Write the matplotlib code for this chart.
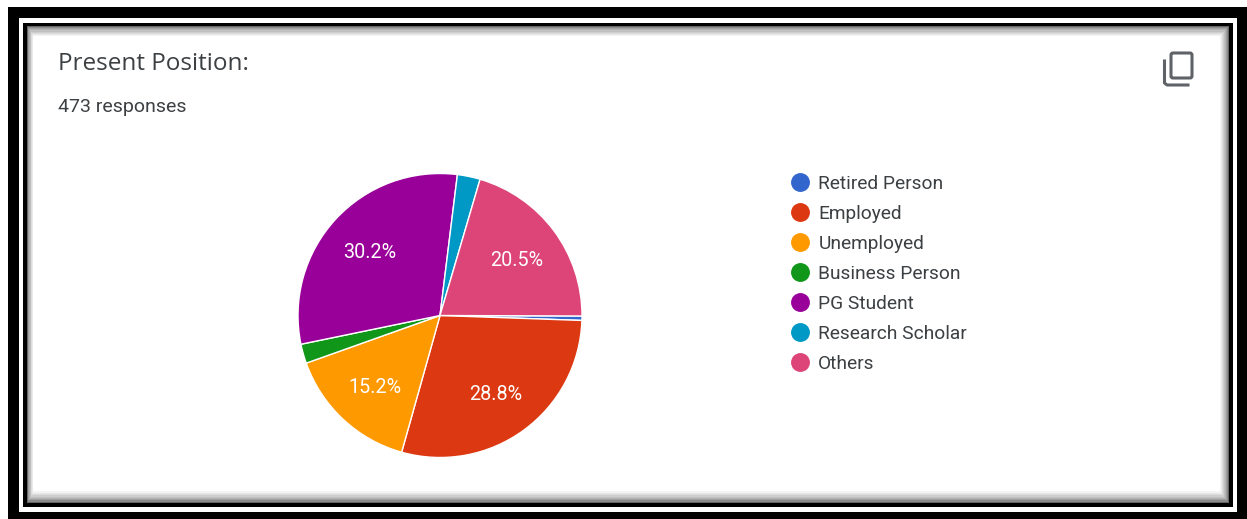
#!/usr/bin/env python3

import matplotlib
matplotlib.use('Agg')
import matplotlib.pyplot as plt
from matplotlib.lines import Line2D
from matplotlib.patches import Rectangle, FancyBboxPatch

W, H = 1247, 519

categories = ['Retired Person', 'Employed', 'Unemployed', 'Business Person',
              'PG Student', 'Research Scholar', 'Others']
values = [0.5, 28.8, 15.2, 2.2, 30.2, 2.6, 20.5]
colors = ['#3366cc', '#dc3912', '#ff9900', '#109618', '#990099', '#0099c6', '#dd4477']
title = 'Present Position:'
subtitle = '473 responses'

plt.rcParams['font.family'] = ['Roboto', 'DejaVu Sans']

fig = plt.figure(figsize=(W / 100, H / 100), dpi=100, facecolor='white')

# page axes in pixels, y going down like the screenshot
ax = fig.add_axes([0, 0, 1, 1])
ax.set_xlim(0, W)
ax.set_ylim(H, 0)
ax.axis('off')

# outer black band, white line, inner black line
ax.add_patch(Rectangle((8, 7), W - 8, H - 7, fc='black', ec='none'))
ax.add_patch(Rectangle((19, 18), 1218, 494, fc='white', ec='none'))
ax.add_patch(Rectangle((23, 23), 1210, 484, fc='black', ec='none'))

# soft inner shadow of the card, wider at top and bottom than on the left
for i in range(10):
    g = min(1, 0.40 + 0.60 * (i / 9) ** 0.65)
    x0, y0 = 27 + 0.7 * i, 26 + 1.1 * i
    x1, y1 = 1229 - 1.0 * i, 503 - 1.3 * i
    ax.add_patch(Rectangle((x0, y0), x1 - x0, y1 - y0, fc=(g, g, g), ec='none'))

ax.text(58, 64, title, fontsize=17.5, color='#3c4043', family=['Open Sans', 'DejaVu Sans'], va='center', ha='left')
ax.text(58, 107, subtitle, fontsize=14, color='#3c4043', va='center', ha='left')

# copy icon
ax.add_patch(FancyBboxPatch((1171, 53), 21, 25, boxstyle='round,pad=0,rounding_size=2',
                            fc='none', ec='#5f6368', lw=2.2))
ax.plot([1164.5, 1164.5, 1167, 1188], [61, 83, 85, 85], color='#5f6368', lw=2.2)

# pie
cx, cy, r = 440, 315.5, 142
pie_ax = fig.add_axes([(cx - r) / W, 1 - (cy + r) / H, 2 * r / W, 2 * r / H])


def pct(p):
    return '%.1f%%' % p if p >= 5 else ''


wedges, texts, autotexts = pie_ax.pie(
    values, colors=colors, startangle=-0.2, counterclock=False, radius=1,
    autopct=pct, pctdistance=0.67,
    wedgeprops={'edgecolor': 'white', 'linewidth': 1},
    textprops={'color': 'white', 'fontsize': 14.2})
pie_ax.set_xlim(-1, 1)
pie_ax.set_ylim(-1, 1)
# labels sit a little below the wedge's mid line
for t in autotexts:
    t.set_y(t.get_position()[1] - 0.014)

# legend
handles = [Line2D([], [], linestyle='none', marker='o', markersize=13.6,
                  markerfacecolor=c, markeredgecolor='none') for c in colors]
ax.legend(handles, categories, loc='upper left', bbox_to_anchor=(780 / W, 1 - 169 / H),
          bbox_transform=fig.transFigure, frameon=False, fontsize=13.8,
          labelcolor='#3c4043', labelspacing=0.625, handletextpad=0.2,
          handlelength=1.5, borderpad=0.3, borderaxespad=0)

fig.savefig('out.png', dpi=100, facecolor='white')
